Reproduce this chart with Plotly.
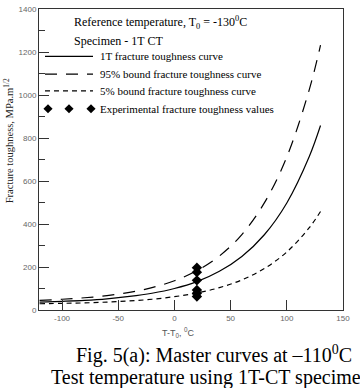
import plotly.graph_objects as go

# Data
temp = [-120, -100, -80, -60, -40, -20, 0, 20, 40, 60, 80, 100, 120, 130]
k_median = [37, 40.5, 45, 52, 63, 78, 100, 132, 180, 249, 350, 498, 714, 858]
k_95 = [45, 50, 57, 67, 82, 104, 136, 183, 251, 351, 498, 712, 1025, 1232]
k_5 = [29, 31, 33, 37, 42, 50, 62, 79, 104, 140, 193, 270, 383, 458]
exp_temp = [20, 20, 20, 20, 20, 20]
exp_k = [197, 176, 138, 93, 78, 63]

x_ticks = [-100, -50, 0, 50, 100, 150]
x_tick_labels = ["-100", "-50", "0", "50", "100", "150"]
y_ticks = [0, 200, 400, 600, 800, 1000, 1200, 1400]

legend_labels = ["1T fracture toughness curve", "95% bound fracture toughness curve",
                 "5% bound fracture toughness curve", "Experimental fracture toughness values"]

W, H = 360, 388
L, R, T, B = 39, 343, 5, 310

fig = go.Figure()
fig.add_trace(go.Scatter(x=temp, y=k_median, mode="lines", line=dict(color="black", width=1.2, shape="spline"), showlegend=False))
fig.add_trace(go.Scatter(x=temp, y=k_95, mode="lines", line=dict(color="black", width=1.2, shape="spline", dash="12px,9px"), showlegend=False))
fig.add_trace(go.Scatter(x=temp, y=k_5, mode="lines", line=dict(color="black", width=1.2, shape="spline", dash="5px,4px"), showlegend=False))
fig.add_trace(go.Scatter(x=exp_temp, y=exp_k, mode="markers", marker=dict(symbol="diamond", color="black", size=8), showlegend=False))

def px_x(px):
    return (px - L) / (R - L)

def px_y(py):
    return (B - py) / (B - T)

# legend samples (manual, old-style)
leg_y = [53, 71, 88, 106]
dashes = ["solid", "12px,9px", "5px,4px"]
for i in range(3):
    fig.add_shape(type="line", xref="paper", yref="paper",
                  x0=px_x(45), x1=px_x(93), y0=px_y(leg_y[i]), y1=px_y(leg_y[i]),
                  line=dict(color="black", width=1.2, dash=dashes[i]))
fig.add_trace(go.Scatter(x=[px_x(48), px_x(69), px_x(91)], y=[px_y(leg_y[3])] * 3,
                         xaxis="x2", yaxis="y2", mode="markers",
                         marker=dict(symbol="diamond", color="black", size=7), showlegend=False))
for i, lab in enumerate(legend_labels):
    fig.add_annotation(xref="paper", yref="paper", x=px_x(98), y=px_y(leg_y[i]), text=lab,
                       showarrow=False, xanchor="left", yanchor="middle",
                       font=dict(family="Liberation Serif", size=11, color="black"))

fig.add_annotation(xref="paper", yref="paper", x=px_x(72), y=px_y(19),
                   text="Reference temperature, T<sub>0</sub> = -130<sup>0</sup>C",
                   showarrow=False, xanchor="left", yanchor="middle",
                   font=dict(family="Liberation Serif", size=12, color="black"))
fig.add_annotation(xref="paper", yref="paper", x=px_x(72), y=px_y(37),
                   text="Specimen - 1T CT", showarrow=False, xanchor="left", yanchor="middle",
                   font=dict(family="Liberation Serif", size=12, color="black"))

# axis titles
fig.add_annotation(xref="paper", yref="paper", x=px_x(8), y=px_y(139),
                   text="Fracture toughness, MPa.m<sup>1/2</sup>", textangle=-90,
                   showarrow=False, xanchor="center", yanchor="middle",
                   font=dict(family="Liberation Serif", size=10.5, color="#222"))
fig.add_annotation(xref="paper", yref="paper", x=px_x(178), y=px_y(333),
                   text="T-T<sub>0</sub>, <sup>0</sup>C", showarrow=False,
                   xanchor="center", yanchor="middle",
                   font=dict(family="Liberation Sans", size=9, color="#555"))

# caption
fig.add_annotation(xref="paper", yref="paper", x=px_x(74), y=px_y(355),
                   text="Fig. 5(a): Master curves at \u2013110<sup>0</sup>C", showarrow=False,
                   xanchor="left", yanchor="middle",
                   font=dict(family="Liberation Serif", size=20, color="black"))
fig.add_annotation(xref="paper", yref="paper", x=px_x(49), y=px_y(378),
                   text="Test temperature using 1T-CT specimens", showarrow=False,
                   xanchor="left", yanchor="middle",
                   font=dict(family="Liberation Serif", size=20, color="black"))

axis_common = dict(showline=True, linecolor="#333", linewidth=1, mirror=True,
                   showgrid=False, zeroline=False, ticks="inside", tickcolor="#333",
                   tickfont=dict(family="Liberation Sans", size=8, color="#666"))
fig.update_layout(
    width=W, height=H,
    margin=dict(l=L, r=W - R, t=T, b=H - B),
    paper_bgcolor="white", plot_bgcolor="white",
    xaxis=dict(range=[-120.5, 150], tickvals=x_ticks, ticktext=x_tick_labels, ticklen=10, **axis_common),
    yaxis=dict(range=[0, 1400], tickvals=y_ticks, ticklen=10,
               minor=dict(dtick=100, ticklen=6, ticks="inside", tickcolor="#333"),
               **axis_common),
    xaxis2=dict(range=[0, 1], overlaying="x", visible=False, fixedrange=True),
    yaxis2=dict(range=[0, 1], overlaying="y", visible=False, fixedrange=True),
    showlegend=False,
)

fig.write_html("out.html")
